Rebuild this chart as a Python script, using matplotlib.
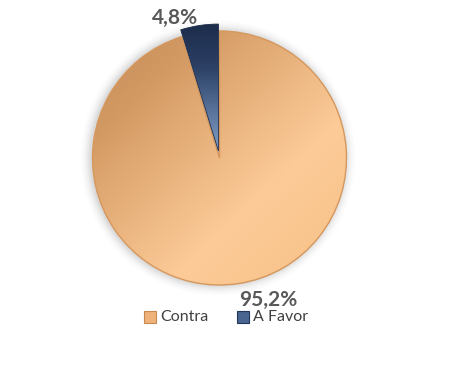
import numpy as np
import matplotlib.pyplot as plt
from matplotlib.colors import LinearSegmentedColormap
from matplotlib.patches import Circle, Rectangle

labels = ['Contra', 'A Favor']
values = [95.2, 4.8]
pct_text = ['95,2%', '4,8%']

W, H = 450, 375
fig = plt.figure(figsize=(4.5, 3.75), dpi=100)
ax = fig.add_axes([0, 0, 1, 1])

cx, cy, r = 219.5, H - 158, 127

# soft shadow, a bit stronger on the left
for i, a in enumerate(np.linspace(0.06, 0.01, 8)):
    ax.add_patch(Circle((cx - 1.5, cy), r + 1.3 * (i + 1), color='#7f7f7f', alpha=a, lw=0, zorder=0))

wedges, _ = ax.pie(values, startangle=90, counterclock=False, center=(cx, cy), radius=r,
                   explode=[0, 7], frame=True, wedgeprops=dict(lw=0))
ax.set_xlim(0, W)
ax.set_ylim(0, H)
ax.set_aspect('equal')
ax.axis('off')

orange = LinearSegmentedColormap.from_list('o', ['#c48b57', '#d49a64', '#e9b37e', '#fccb98', '#f9c48c'])
blue = LinearSegmentedColormap.from_list('b', ['#1b2a48', '#2c4065', '#5d779e', '#8eaad4'])

# orange gradient: upper-left dark -> lower-right light
yy, xx = np.mgrid[0:1:200j, 0:1:200j]
g = np.clip((xx * 0.8 + yy * 0.85) / 1.45, 0, 1)
im = ax.imshow(g, cmap=orange, extent=(cx - r, cx + r, cy - r, cy + r), origin='upper',
               zorder=2, interpolation='bilinear')
im.set_clip_path(wedges[0])
wedges[0].set_facecolor('none')
wedges[0].set_edgecolor('#d6975c')
wedges[0].set_linewidth(1.0)
wedges[0].set_zorder(3)

# blue gradient: top dark -> center light
gb = np.tile(np.linspace(0, 1, 200)[:, None], (1, 50))
im2 = ax.imshow(gb, cmap=blue, extent=(cx - 50, cx + 10, cy - 5, cy + r + 12), origin='upper',
                zorder=2, interpolation='bilinear', aspect='auto')
im2.set_clip_path(wedges[1])
wedges[1].set_facecolor('none')
wedges[1].set_edgecolor('#1b2a48')
wedges[1].set_linewidth(0.6)
wedges[1].set_zorder(3)

# percentage labels (angle in degrees, distance in radii)
label_pos = [(-71, 1.18), (107.5, 1.16)]
for txt, (ang, d) in zip(pct_text, label_pos):
    t = np.deg2rad(ang)
    ax.text(cx + d * r * np.cos(t), cy + d * r * np.sin(t), txt, ha='center', va='center',
            fontsize=15, fontweight='bold', color='#595959', zorder=5, fontfamily='Lato')

# legend
leg_items = [(labels[0], '#eeb27a', '#c98a50'), (labels[1], '#4a6590', '#24365a')]
lx = [144, 237]
for (name, fc, ec), x0 in zip(leg_items, lx):
    ax.add_patch(Rectangle((x0, H - 323), 12, 12, facecolor=fc, edgecolor=ec, lw=0.8, zorder=5))
    ax.text(x0 + 16, H - 317, name, ha='left', va='center', fontsize=11.5, color='#404040',
            fontfamily='Lato', zorder=5)

fig.savefig('out.png', dpi=100, facecolor='white')
